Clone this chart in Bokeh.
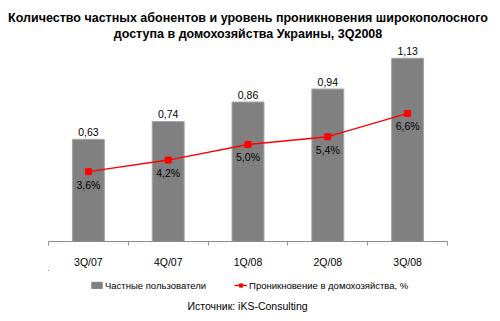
from bokeh.plotting import figure
from bokeh.layouts import column
from bokeh.models import Range1d, FixedTicker, Title, Legend, LegendItem, ColumnDataSource, Label
from bokeh.embed import file_html
from bokeh.resources import INLINE
from bokeh.core.properties import value

categories = ["3Q/07", "4Q/07", "1Q/08", "2Q/08", "3Q/08"]
subscribers = [0.63, 0.74, 0.86, 0.94, 1.13]
penetration = [3.6, 4.2, 5.0, 5.4, 6.6]
series_names = ["Частные пользователи", "Проникновение в домохозяйства, %"]
source_note = "Источник: iKS-Consulting"
title_lines = ["Количество частных абонентов и уровень проникновения широкополосного",
               "доступа в домохозяйства Украины, 3Q2008"]

FONT = "Liberation Sans"
BAR_COLOR = "#808080"
BAR_EDGE = "#a6a6a6"
LINE_COLOR = "#ff0000"
TEXT_COLOR = "#000000"

xs = [i + 0.5 for i in range(len(categories))]
src = ColumnDataSource(dict(
    x=xs,
    subs=subscribers,
    pct=penetration,
    subs_label=[f"{v:.2f}".replace(".", ",") for v in subscribers],
    pct_label=[f"{v:.1f}%".replace(".", ",") for v in penetration],
))

p = figure(width=500, height=270, output_backend="svg", toolbar_location=None,
           x_range=Range1d(0, len(categories)), y_range=Range1d(0, 1.2393),
           min_border_left=48, min_border_right=53, min_border_top=40, min_border_bottom=28,
           y_axis_location=None, outline_line_color=None)
p.extra_y_ranges = {"pct": Range1d(0, 10.36)}
p.grid.visible = False

p.vbar(x="x", top="subs", width=0.4, source=src,
       fill_color=BAR_COLOR, line_color=BAR_EDGE, line_width=1)
p.line(x="x", y="pct", source=src, y_range_name="pct",
       line_color=LINE_COLOR, line_width=1.3)
p.scatter(x="x", y="pct", source=src, y_range_name="pct",
          marker="square", size=6, fill_color=LINE_COLOR, line_color=LINE_COLOR)

p.text(x="x", y="subs", text="subs_label", source=src, text_align="center",
       text_baseline="bottom", y_offset=-3, text_font=value(FONT),
       text_font_size="10.5px", text_color=TEXT_COLOR)
p.text(x="x", y="pct", text="pct_label", source=src, y_range_name="pct",
       text_align="center", text_baseline="top", y_offset=7, text_font=value(FONT),
       text_font_size="10.5px", text_color=TEXT_COLOR)

ax = p.xaxis[0]
ax.ticker = FixedTicker(ticks=xs, minor_ticks=list(range(len(categories) + 1)))
ax.major_label_overrides = {x: c for x, c in zip(xs, categories)}
ax.major_tick_in = 0
ax.major_tick_out = 0
ax.minor_tick_in = 0
ax.minor_tick_out = 4
ax.axis_line_color = "#8c8c8c"
ax.minor_tick_line_color = "#8c8c8c"
ax.major_label_text_font = FONT
ax.major_label_text_font_size = "10.5px"
ax.major_label_text_color = TEXT_COLOR
ax.major_label_standoff = 10

p.add_layout(Title(text=title_lines[1], align="center",
                   text_font=FONT, text_font_size="12.5px", text_font_style="bold",
                   text_color=TEXT_COLOR, standoff=0), "above")
p.add_layout(Title(text=title_lines[0], align="center", text_font=FONT,
                   text_font_size="12.5px", text_font_style="bold",
                   text_color=TEXT_COLOR, standoff=0), "above")

# legend strip with the source note (series drawn out of view, only their legend swatches show)
lg = figure(width=500, height=51, output_backend="svg", toolbar_location=None,
            x_range=Range1d(100, 105), y_range=Range1d(-20, -10),
            min_border_left=48, min_border_right=53, min_border_top=0, min_border_bottom=0,
            x_axis_location=None, y_axis_location=None, outline_line_color=None)
lg.grid.visible = False
lb = lg.vbar(x="x", top="subs", width=0.4, source=src,
             fill_color=BAR_COLOR, line_color=BAR_COLOR)
ll = lg.line(x="x", y="pct", source=src, line_color=LINE_COLOR, line_width=1.3)
ls = lg.scatter(x="x", y="pct", source=src, marker="square", size=5,
                fill_color=LINE_COLOR, line_color=LINE_COLOR)

legend = Legend(items=[
    LegendItem(label=series_names[0], renderers=[lb]),
    LegendItem(label=series_names[1], renderers=[ll, ls]),
], orientation="horizontal", location=(42, 30), border_line_color=None,
    background_fill_alpha=0, label_text_font=FONT, label_text_font_size="9.5px",
    label_text_color=TEXT_COLOR, glyph_width=13, glyph_height=8, label_standoff=2,
    spacing=28, padding=0, margin=0, label_height=12)
lg.add_layout(legend, "center")

lg.add_layout(Label(x=199, y=16, x_units="screen", y_units="screen", text=source_note,
                    text_align="center", text_baseline="middle", text_font=FONT,
                    text_font_size="10.5px", text_color=TEXT_COLOR))

layout = column(p, lg, spacing=0)
open("out.html", "w").write(file_html(layout, INLINE))
